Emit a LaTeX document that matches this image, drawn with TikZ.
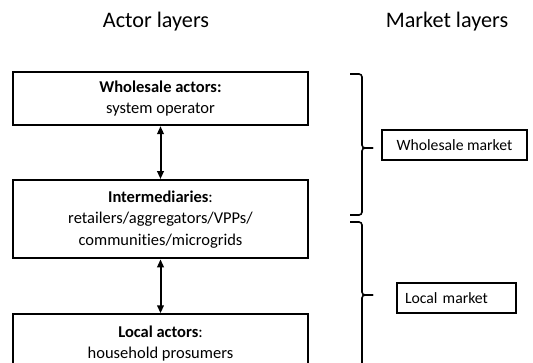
\documentclass[tikz,border=0pt]{standalone}
\usepackage{fontspec}
\setmainfont[Ligatures=NoCommon]{Carlito}
\usetikzlibrary{positioning,arrows.meta}

\begin{document}
\begin{tikzpicture}[
  x=1pt, y=-1pt,
  font=\fontsize{16.5}{21.5}\selectfont,
  node distance=53pt,
  box/.style={draw, line width=2.2pt, align=center, minimum width=295pt, inner sep=4pt},
  mkt/.style={draw, line width=2.2pt, minimum height=30pt, inner ysep=3pt, font=\fontsize{15.7}{19}\selectfont},
  title/.style={font=\fontsize{22.2}{26}\selectfont},
  arr/.style={{Triangle[length=8pt,width=6.5pt]}-{Triangle[length=8pt,width=6.5pt]}, line width=2pt},
  brc/.style={line width=1.6pt, rounded corners=3pt}
]
\useasboundingbox (0,0) rectangle (533,363);
\clip (0,0) rectangle (533,363);

% Titluri
\node[title] (acttitle) at (156,22) {Actor layers};
\node[title] (mkttitle) at (447,22) {Market layers};

% Straturi de actori
\node[box, minimum height=53pt] (wsale) at (160.5,98.5) {\textbf{Wholesale actors:}\\system operator};
\node[box, minimum height=78pt, below=of wsale] (inter) {\textbf{Intermediaries}:\\retailers/aggregators/VPPs/\\communities/microgrids};
\node[box, minimum height=58pt, below=54pt of inter] (local) {\textbf{Local actors}:\\household prosumers};

% Săgeți
\draw[arr] (wsale) -- (inter);
\draw[arr] (inter) -- (local);

% Straturi de piață
\node[mkt, inner xsep=15pt] (wmkt) at (454.5,145) {Wholesale market};
\node[mkt, inner xsep=8pt, text width=103pt, align=left] (lmkt) at (456.5,298) {Local market};

% Acolade
\draw[brc] (350,74) -- (362,74) -- (362,148) -- (373,148);
\draw[brc] (373,148) -- (362,148) -- (362,215) -- (350,215);
\draw[brc] (350,222) -- (362,222) -- (362,295) -- (373,295);
\draw[brc] (373,295) -- (362,295) -- (362,368) -- (350,368);

\end{tikzpicture}
\end{document}
